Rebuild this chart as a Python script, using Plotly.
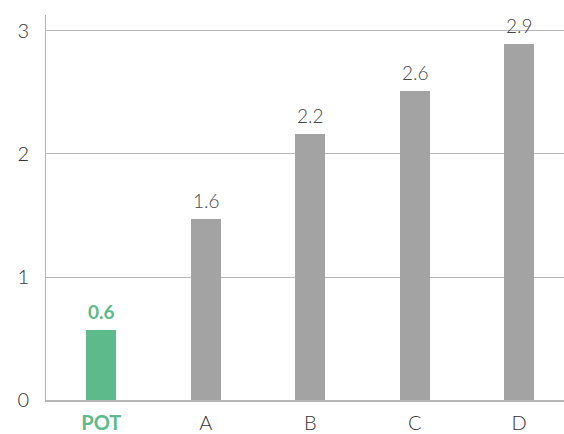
import plotly.graph_objects as go

categories = ["POT", "A", "B", "C", "D"]
values = [0.57, 1.47, 2.165, 2.515, 2.895]
labels = ["0.6", "1.6", "2.2", "2.6", "2.9"]
y_ticks = [0, 1, 2, 3]

GREEN = "#5dba8a"
GRAY = "#a3a3a3"
colors = [GREEN] + [GRAY] * (len(categories) - 1)

fig = go.Figure(go.Bar(
    x=categories, y=values, marker=dict(color=colors, line=dict(width=0)),
    width=0.29, hoverinfo="skip",
))

for i, (c, v, t) in enumerate(zip(categories, values, labels)):
    if i == 0:
        txt = f"<b>{t}</b>"
        col = GREEN
    else:
        txt = t
        col = "#444444"
    fig.add_annotation(x=c, y=v, text=txt, showarrow=False, yanchor="bottom",
                       yshift=5, font=dict(size=19, color=col, family="Lato", weight=300 if i else 700))

ticktext = [f"<b><span style='color:{GREEN}'>{categories[0]}</span></b>"] + categories[1:]

fig.update_layout(
    width=564, height=434,
    margin=dict(l=46, r=0, t=15, b=34),
    paper_bgcolor="white", plot_bgcolor="white",
    showlegend=False,
    font=dict(family="Lato", color="#333333"),
    bargap=0,
    xaxis=dict(
        range=[-0.53, 4.43], tickmode="array", tickvals=categories, ticktext=ticktext,
        showgrid=False, showline=True, linecolor="#b5b5b5", linewidth=1.5,
        ticks="", tickfont=dict(size=20, color="#333333", weight=300), zeroline=False,
        ticklabelstandoff=4,
    ),
    yaxis=dict(
        range=[0, 3.13], tickmode="array", tickvals=y_ticks,
        showgrid=True, gridcolor="#b5b5b5", gridwidth=1,
        showline=True, linecolor="#b5b5b5", linewidth=1,
        ticks="", tickfont=dict(size=20, color="#333333", weight=300), zeroline=False,
        ticklabelstandoff=12,
    ),
)

fig.write_html("out.html", config={"displayModeBar": False},
               post_script="document.body.style.margin='0';")
